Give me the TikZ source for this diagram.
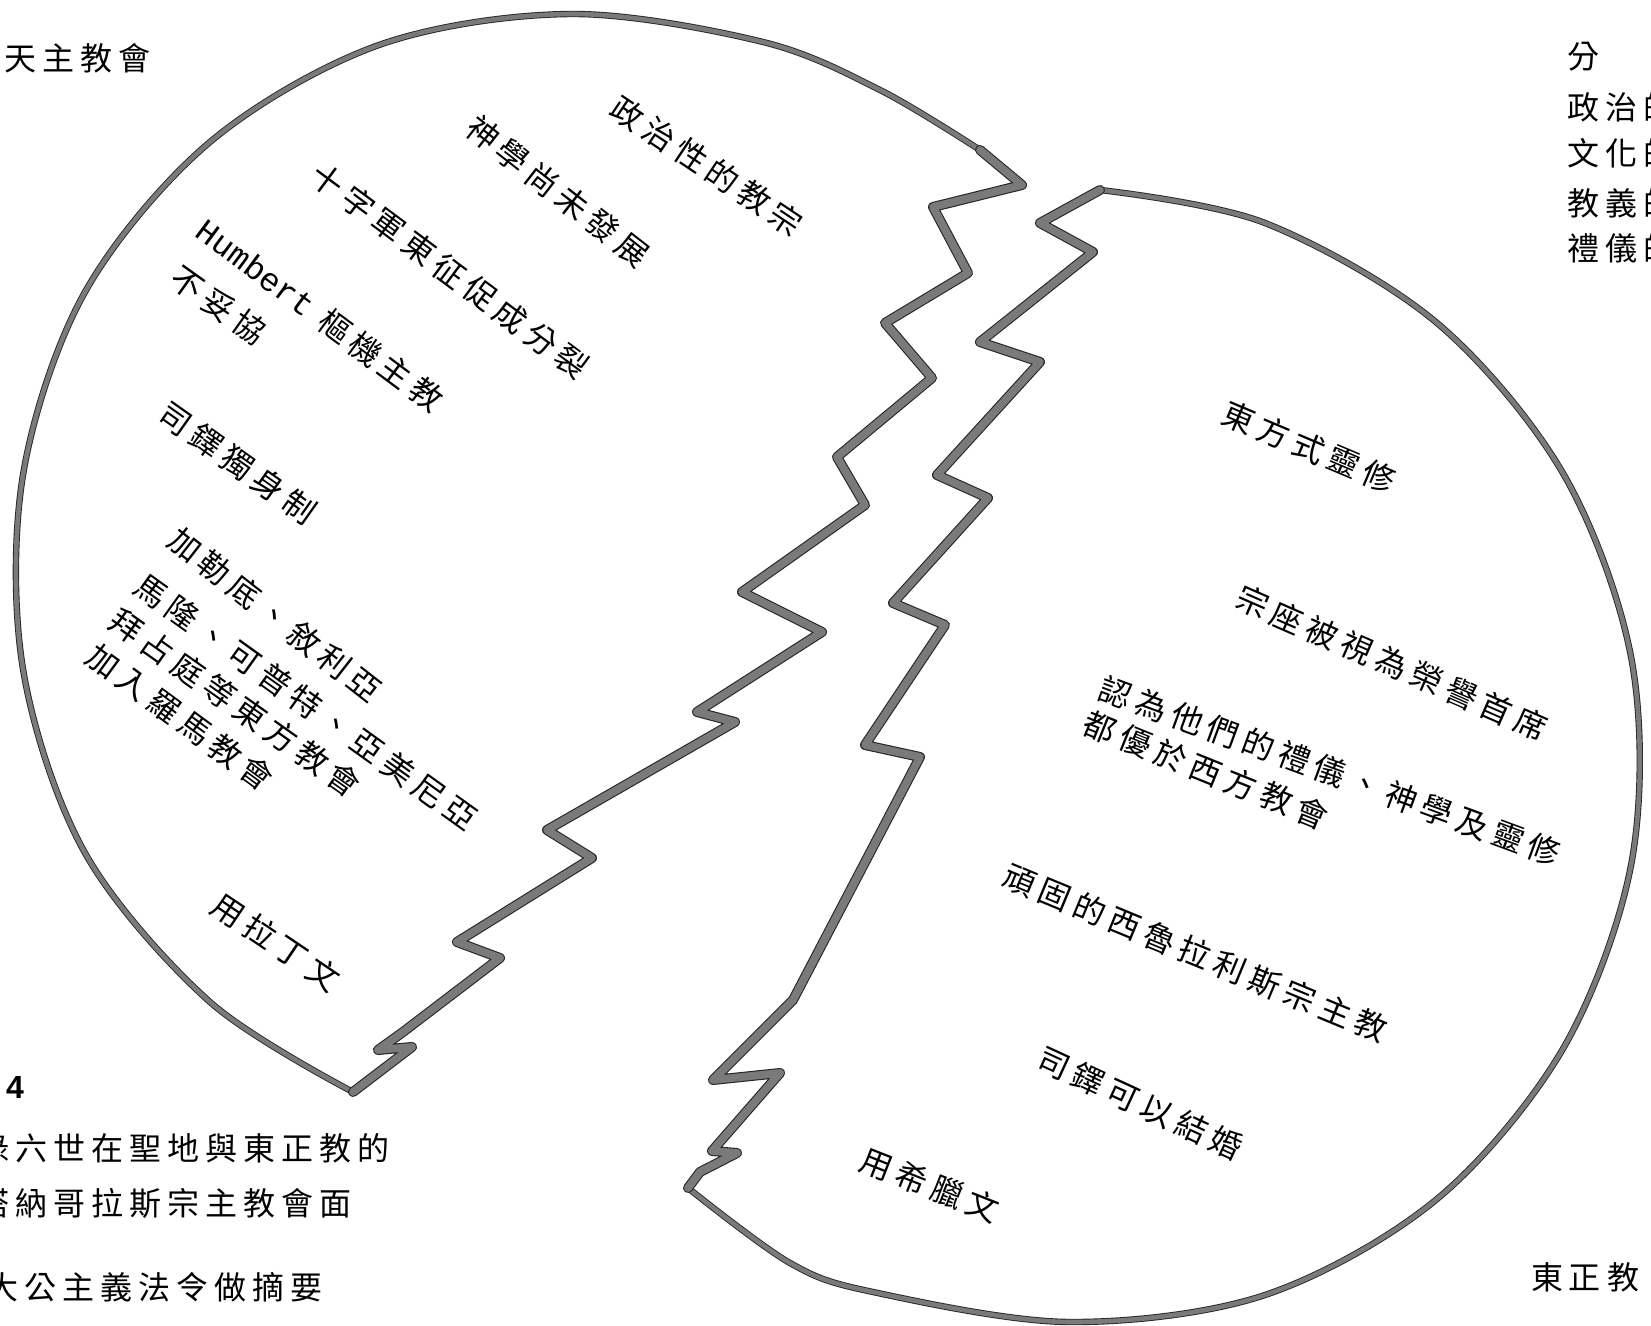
\documentclass[tikz,border=0pt]{standalone}
\usepackage{fontspec}
\newfontfamily\cjk[LetterSpace=18.75]{Noto Sans CJK TC}
\newfontfamily\monof{Liberation Mono}
\newfontfamily\sansf{Liberation Sans}
\begin{document}
\begin{tikzpicture}[x=0.5pt,y=-0.5pt]
\tikzset{
  lbl/.style={inner sep=0pt, font=\cjk\fontsize{16pt}{18pt}\selectfont, text=black},
  rim/.style={line width=0.45pt, draw=black!85, double=black!52, double distance=2.3pt, line join=round, line cap=round},
  crack/.style={line width=0.55pt, draw=black!85, double=black!52, double distance=3.9pt, line join=round, line cap=round},
}
\useasboundingbox[fill=white] (0,0) rectangle (1651,1326);

% ---- left piece ----
\draw[rim] plot[smooth, tension=0.55] coordinates {(353,1092) (210,1002) (85,853) (23,669) (23,475) (85,292) (210,142) (379,45) (571,14) (763,42) (880,90) (980,150)};
\draw[crack] (980,150) -- (1022,185) -- (933,207) -- (968,273) -- (885,323) -- (932,378) -- (837,457) -- (865,505) -- (742,592) -- (822,632) -- (697,712) -- (735,722) -- (547,830) -- (592,858) -- (457,942) -- (500,958) -- (403,1032) -- (378,1050) -- (412,1047) -- (353,1092);

% ---- right piece ----
\draw[rim] plot[smooth, tension=0.55] coordinates {(1100,190) (1265,223) (1437,323) (1564,475) (1632,662) (1632,860) (1564,1047) (1437,1199) (1265,1295) (1069,1322) (873,1292) (790,1263) (688,1188)};
\draw[crack] (1100,190) -- (1040,223) -- (1093,252) -- (980,342) -- (1040,362) -- (937,475) -- (988,498) -- (893,603) -- (945,625) -- (865,745) -- (920,757) -- (793,1000) -- (713,1080) -- (780,1073) -- (712,1151) -- (737,1153) -- (700,1172) -- (688,1188);

% ---- left texts ----
\node[lbl, rotate=-33.8] (l1) at (707,166) {政治性的教宗};
\node[lbl, rotate=-38] (l2) at (558,191) {神學尚未發展};
\node[lbl, rotate=-36.6] (l3) at (450,271) {十字軍東征促成分裂};
\node[lbl, rotate=-36.7] (l4) at (320,315) {{\monof\fontsize{16.5pt}{18pt}\selectfont Humbert} 樞機主教};
\node[lbl, rotate=-35.5] (l5) at (219,305) {不妥協};
\node[lbl, rotate=-35.3] (l6) at (238,463) {司鐸獨身制};
\node[lbl, rotate=-38] (l7) at (275,615) {加勒底、敘利亞};
\node[lbl, rotate=-35.7] (l8) at (306,702) {馬隆、可普特、亞美尼亞};
\node[lbl, rotate=-35.3] (l9) at (235,703) {拜占庭等東方教會};
\node[lbl, rotate=-36.3] (l10) at (180,717) {加入羅馬教會};
\node[lbl, rotate=-34] (l11) at (276,942) {用拉丁文};

% ---- right texts ----
\node[lbl, rotate=-22.9] (r1) at (1309,447) {東方式靈修};
\node[lbl, rotate=-23.6] (r2) at (1392,663) {宗座被視為榮譽首席};
\node[lbl, rotate=-20.2] (r3) at (1330,771) {認為他們的禮儀、神學及靈修};
\node[lbl, rotate=-22] (r4) at (1206,770) {都優於西方教會};
\node[lbl, rotate=-22.5] (r5) at (1195,953) {頑固的西魯拉利斯宗主教};
\node[lbl, rotate=-24.7] (r6) at (1140,1103) {司鐸可以結婚};
\node[lbl, rotate=-21.5] (r7) at (930,1185) {用希臘文};

% ---- corner texts ----
\node[lbl, anchor=west] (c1) at (4,58) {天主教會};
\node[lbl, anchor=west] (t1) at (1567,57) {分};
\node[lbl, anchor=west] (t2) at (1567,107) {政治的};
\node[lbl, anchor=west] (t3) at (1567,153) {文化的};
\node[lbl, anchor=west] (t4) at (1567,203) {教義的};
\node[lbl, anchor=west] (t5) at (1567,248) {禮儀的};
\node[inner sep=0pt, font=\sansf\bfseries\fontsize{16pt}{18pt}\selectfont] (n4) at (15,1087) {4};
\node[lbl, anchor=west] (b1) at (-23,1148) {祿六世在聖地與東正教的};
\node[lbl, anchor=west] (b2) at (-23,1203) {塔納哥拉斯宗主教會面};
\node[lbl, anchor=west] (b3) at (-14,1287) {大公主義法令做摘要};
\node[lbl] (c4) at (1585,1277) {東正教};
\end{tikzpicture}
\end{document}
